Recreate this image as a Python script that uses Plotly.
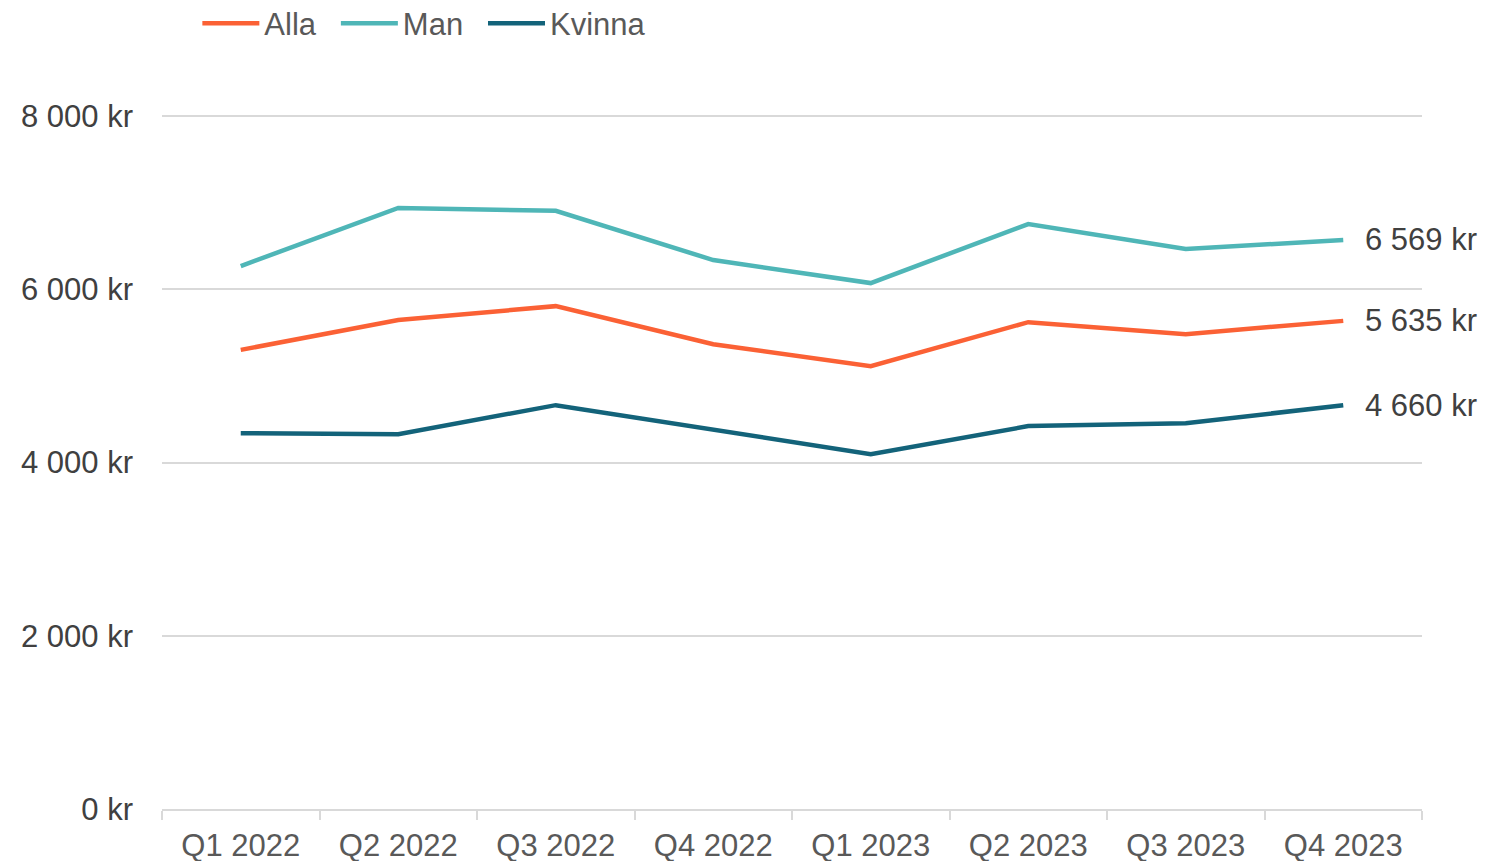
import plotly.graph_objects as go

quarters = ["Q1 2022", "Q2 2022", "Q3 2022", "Q4 2022", "Q1 2023", "Q2 2023", "Q3 2023", "Q4 2023"]
alla = [5300, 5645, 5805, 5366, 5112, 5620, 5482, 5635]
man = [6268, 6938, 6905, 6337, 6071, 6753, 6464, 6569]
kvinna = [4339, 4327, 4662, 4373, 4096, 4420, 4454, 4660]
y_ticks = [0, 2000, 4000, 6000, 8000]
y_tick_text = ["0 kr", "2 000 kr", "4 000 kr", "6 000 kr", "8 000 kr"]

series = [("Alla", alla, "#FB6135"), ("Man", man, "#4FB6B7"), ("Kvinna", kvinna, "#13637A")]

font_family = "Liberation Sans, Arial, sans-serif"
text_color = "#404040"
FS = 31
PAD = "\u00a0\u2009"

fig = go.Figure()
for i, (name, vals, color) in enumerate(series):
    legend_name = name + (PAD if i < len(series) - 1 else "")
    fig.add_trace(go.Scatter(
        x=quarters, y=vals, name=legend_name, mode="lines",
        line=dict(color=color, width=4.5),
    ))

def fmt(v):
    return f"{v:,}".replace(",", " ") + " kr"

for name, vals, color in series:
    fig.add_annotation(
        x=quarters[-1], y=vals[-1], xref="x", yref="y",
        text=fmt(vals[-1]), showarrow=False, xanchor="left", yanchor="middle",
        xshift=20, font=dict(family=font_family, size=FS, color=text_color),
    )

fig.update_layout(
    width=1491, height=861,
    margin=dict(l=154, r=77, t=104, b=60, autoexpand=False),
    plot_bgcolor="white", paper_bgcolor="white",
    font=dict(family=font_family, size=FS, color=text_color),
    showlegend=True,
    legend=dict(
        orientation="h", x=0.127, y=1.127, xref="container", yref="paper",
        xanchor="left", yanchor="middle",
        font=dict(family=font_family, size=FS, color="#595959"),
        itemwidth=57, tracegroupgap=0,
    ),
    xaxis=dict(
        type="category", tickson="boundaries", ticks="outside", ticklen=9,
        tickcolor="#D9D9D9", tickwidth=1.5, showline=True, linecolor="#D9D9D9",
        linewidth=1.5, showgrid=False, tickfont=dict(size=FS, color="#595959"),
        range=[-0.5, 7.5], ticklabelstandoff=8, tickangle=0, automargin=False,
    ),
    yaxis=dict(
        range=[0, 8046.2], tickvals=y_ticks, ticktext=y_tick_text,
        showgrid=True, gridcolor="#D9D9D9", gridwidth=1.5, zeroline=False,
        showline=False, ticklabelstandoff=28, tickfont=dict(size=FS, color=text_color),
        automargin=False,
    ),
)

fig.write_html("out.html")
